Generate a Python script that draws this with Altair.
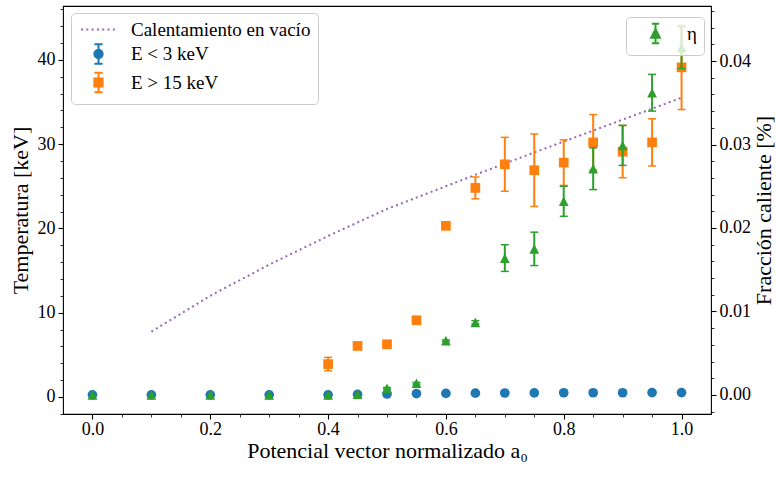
import altair as alt
import pandas as pd

# ---------------- data ----------------
a0_all = [0.0, 0.1, 0.2, 0.3, 0.4, 0.45, 0.5, 0.55, 0.6, 0.65, 0.7, 0.75, 0.8, 0.85, 0.9, 0.95, 1.0]
T_low = [0.25, 0.25, 0.25, 0.25, 0.25, 0.3, 0.35, 0.4, 0.42, 0.45, 0.47, 0.48, 0.5, 0.5, 0.5, 0.52, 0.52]
T_low_err = [0.05, 0.05, 0.05, 0.05, 0.05, 0.05, 0.05, 0.05, 0.05, 0.05, 0.05, 0.05, 0.05, 0.05, 0.05, 0.05, 0.05]

a0_hot = [0.4, 0.45, 0.5, 0.55, 0.6, 0.65, 0.7, 0.75, 0.8, 0.85, 0.9, 0.95, 1.0]
T_hot = [3.9, 6.05, 6.25, 9.1, 20.3, 24.8, 27.6, 26.9, 27.8, 30.2, 29.1, 30.2, 39.1]
T_hot_err = [0.8, 0.15, 0.15, 0.15, 0.15, 1.3, 3.2, 4.3, 2.7, 3.3, 3.1, 2.8, 5.0]

eta = [0.0, 0.0, 0.0, 0.0, 0.0, 0.0001, 0.0008, 0.0014, 0.0065, 0.0087, 0.0164, 0.0175,
       0.0232, 0.0271, 0.0299, 0.0362, 0.0416]
eta_err = [0.0, 0.0, 0.0, 0.0, 0.0, 0.0, 0.0001, 0.0001, 0.0001, 0.0002, 0.0016, 0.0020,
           0.0018, 0.0025, 0.0024, 0.0022, 0.0025]

a0_vac = [0.1, 0.2, 0.3, 0.4, 0.5, 0.6, 0.7, 0.8, 0.9, 1.0]
T_vac = [7.75, 12.0, 15.7, 19.1, 22.3, 25.0, 27.7, 30.3, 32.9, 35.5]

series_names = ["Calentamiento en vacío", "E < 3 keV", "E > 15 keV"]
eta_names = ["η"]

x_major_vals = [0.0, 0.2, 0.4, 0.6, 0.8, 1.0]
yl_major_vals = [0, 10, 20, 30, 40]
yr_major_vals = [0.0, 0.01, 0.02, 0.03, 0.04]

# ---------------- style ----------------
BLUE, ORANGE, GREEN, PURPLE = "#1f77b4", "#ff7f0e", "#2ca02c", "#9467bd"
FONT = "Liberation Serif"
MS = 94  # marker area

x_minor_vals = [round(i * 0.05, 2) for i in range(1, 21) if i % 4]
yl_minor_vals = [v for v in range(-2, 47, 2) if v % 10]
yr_minor_vals = [round(i * 0.002, 3) for i in range(-1, 24) if i % 5]

XS = alt.Scale(domain=[-0.05, 1.05], nice=False, zero=False)
YL = alt.Scale(domain=[-2.02, 46.38], nice=False, zero=False)
YR = alt.Scale(domain=[-0.00228, 0.04659], nice=False, zero=False)

common = dict(domain=False, grid=False, tickColor="black", labelColor="black",
              labelFont=FONT, titleFont=FONT, titleColor="black", titleFontWeight="normal")

x_major = alt.Axis(orient="bottom", values=x_major_vals, format=".1f", tickSize=5, tickWidth=1.1,
                   labelFontSize=18, labelPadding=1, title="Potencial vector normalizado a₀",
                   titleFontSize=22, titlePadding=2, **common)
x_minor = alt.Axis(orient="bottom", values=x_minor_vals, labels=False, tickSize=3, tickWidth=0.8,
                   title=None, domain=False, grid=False, tickColor="black")
yl_major = alt.Axis(orient="left", values=yl_major_vals, format="d", tickSize=5, tickWidth=1.1,
                    labelFontSize=18, labelPadding=3, title="Temperatura [keV]",
                    titleFontSize=22, titlePadding=5, **common)
yl_minor = alt.Axis(orient="left", values=yl_minor_vals, labels=False, tickSize=3, tickWidth=0.8,
                    title=None, domain=False, grid=False, tickColor="black")
yr_major = alt.Axis(orient="right", values=yr_major_vals, format=".2f", tickSize=5, tickWidth=1.1,
                    labelFontSize=18, labelPadding=3, title="Fracción caliente [%]",
                    titleFontSize=22, titlePadding=3, titleAngle=270, titleBaseline="top", **common)
yr_minor = alt.Axis(orient="right", values=yr_minor_vals, labels=False, tickSize=3, tickWidth=0.8,
                    title=None, domain=False, grid=False, tickColor="black")

# ---------------- tables ----------------
df_vac = pd.DataFrame({"a0": a0_vac, "T": T_vac})
df_low = pd.DataFrame({"a0": a0_all, "v": T_low, "err": T_low_err})
df_hot = pd.DataFrame({"a0": a0_hot, "v": T_hot, "err": T_hot_err})
df_eta = pd.DataFrame({"a0": a0_all, "v": eta, "err": eta_err})
for d in (df_low, df_hot, df_eta):
    d["lo"] = d["v"] - d["err"]
    d["hi"] = d["v"] + d["err"]


def X(axis=None):
    return alt.X("a0:Q", scale=XS, axis=axis)


def errbar(df, color, yscale, axis_x=None, axis_y=None):
    base = alt.Chart(df).transform_filter("datum.err > 0")
    rule = base.mark_rule(color=color, strokeWidth=2, opacity=1).encode(
        x=X(axis_x), y=alt.Y("lo:Q", scale=yscale, axis=axis_y), y2="hi:Q")
    cap_lo = base.mark_tick(color=color, orient="horizontal", size=8, thickness=1.5, opacity=1).encode(
        x=X(), y=alt.Y("lo:Q", scale=yscale, axis=None))
    cap_hi = base.mark_tick(color=color, orient="horizontal", size=8, thickness=1.5, opacity=1).encode(
        x=X(), y=alt.Y("hi:Q", scale=yscale, axis=None))
    return [rule, cap_lo, cap_hi]


def points(df, color, shape, yscale, axis_y=None):
    return alt.Chart(df).mark_point(filled=True, shape=shape, size=MS, color=color, opacity=1,
                                    strokeWidth=0).encode(
        x=X(), y=alt.Y("v:Q", scale=yscale, axis=axis_y))


TRI = "M0,-1L-1,1L1,1Z"

vac = alt.Chart(df_vac).mark_line(color=PURPLE, strokeWidth=2, strokeDash=[2, 3.3], strokeCap="butt").encode(
    x=X(x_major), y=alt.Y("T:Q", scale=YL, axis=yl_major))

layers = [vac]
layers += errbar(df_low, BLUE, YL, axis_x=x_minor, axis_y=yl_minor)
layers.append(points(df_low, BLUE, "circle", YL))
layers += errbar(df_hot, ORANGE, YL)
layers.append(points(df_hot, ORANGE, "square", YL))
layers += errbar(df_eta, GREEN, YR, axis_y=yr_minor)
layers.append(points(df_eta, GREEN, TRI, YR, axis_y=yr_major))

# ---------------- legends ----------------
CIRC_E = ("M0.85,0C0.85,0.47 0.47,0.85 0,0.85C-0.47,0.85 -0.85,0.47 -0.85,0"
          "C-0.85,-0.47 -0.47,-0.85 0,-0.85C0.47,-0.85 0.85,-0.47 0.85,0Z"
          "M0,-2V2M-0.85,-2H0.85M-0.85,2H0.85")
SQ_E = "M-0.85,-0.85H0.85V0.85H-0.85ZM0,-2V2M-0.85,-2H0.85M-0.85,2H0.85"
LINE_S = "M-3.6,0H3.6"
TRI_E = "M0,-0.9L-0.9,0.9L0.9,0.9ZM0,-2V2M-0.75,-2H0.75M-0.75,2H0.75"

leg_style = dict(orient="none", title=None, direction="vertical",
                 fillColor="rgba(255,255,255,0.8)", strokeColor="#cccccc", cornerRadius=4,
                 padding=7, symbolSize=MS, symbolStrokeWidth=2, symbolOpacity=1,
                 labelFont=FONT, labelFontSize=19, labelColor="black", labelLimit=400,
                 rowPadding=-0.5, zindex=1)
leg1 = alt.Legend(legendX=8, legendY=7, symbolOffset=11, labelOffset=23, **leg_style)
leg2 = alt.Legend(legendX=563, legendY=11, symbolOffset=13, labelOffset=22, **leg_style)

df_leg1 = pd.DataFrame({"serie": series_names})
df_leg2 = pd.DataFrame({"eta": eta_names})

cols1 = [PURPLE, BLUE, ORANGE]
legend1 = alt.Chart(df_leg1).transform_filter("false").mark_point(
    filled=True, opacity=1, size=MS, strokeWidth=2).encode(
    color=alt.Color("serie:N", scale=alt.Scale(domain=series_names, range=cols1), legend=leg1),
    stroke=alt.Stroke("serie:N", scale=alt.Scale(domain=series_names, range=cols1), legend=leg1),
    shape=alt.Shape("serie:N", scale=alt.Scale(domain=series_names, range=[LINE_S, CIRC_E, SQ_E]), legend=leg1),
    strokeDash=alt.StrokeDash("serie:N", scale=alt.Scale(domain=series_names,
                                                         range=[[2, 3.3], [1, 0], [1, 0]]), legend=leg1),
)
legend2 = alt.Chart(df_leg2).transform_filter("false").mark_point(
    filled=True, opacity=1, size=MS, strokeWidth=2).encode(
    color=alt.Color("eta:N", scale=alt.Scale(domain=eta_names, range=[GREEN]), legend=leg2),
    stroke=alt.Stroke("eta:N", scale=alt.Scale(domain=eta_names, range=[GREEN]), legend=leg2),
    shape=alt.Shape("eta:N", scale=alt.Scale(domain=eta_names, range=[TRI_E]), legend=leg2),
)
layers += [legend1, legend2]

chart = alt.layer(*layers).resolve_scale(
    x="independent", y="independent", color="independent", stroke="independent",
    shape="independent", strokeDash="independent"
).properties(
    width=648, height=408,
    autosize=alt.AutoSizeParams(type="none"),
    padding={"left": 63, "top": 6, "right": 65, "bottom": 78},
    background="white",
).configure_view(stroke="black", strokeWidth=1.1)

chart.save("out.html", embed_options={"renderer": "svg", "actions": False})
